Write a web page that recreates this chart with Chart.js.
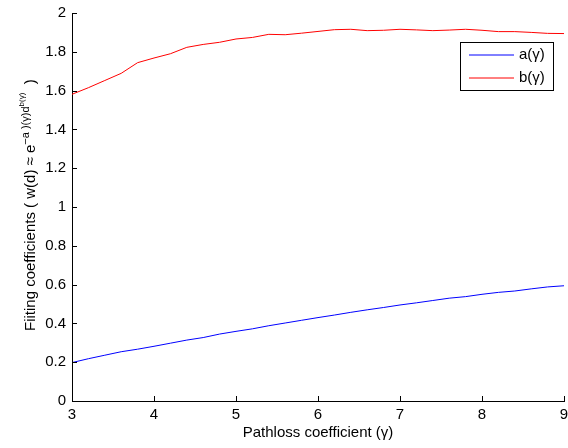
<!DOCTYPE html>
<html>
<head>
<meta charset="utf-8">
<script src="https://cdn.jsdelivr.net/npm/chart.js@4/dist/chart.umd.min.js"></script>
<style>
  html, body { margin: 0; padding: 0; background: #fff; }
  canvas { display: block; }
</style>
</head>
<body>
<canvas id="chart" width="568" height="448"></canvas>
<script>
// pathloss coefficient (gamma)
const gammaValues = [3.0, 3.2, 3.4, 3.6, 3.8, 4.0, 4.2, 4.4, 4.6, 4.8, 5.0,
  5.2, 5.4, 5.6, 5.8, 6.0, 6.2, 6.4, 6.6, 6.8, 7.0,
  7.2, 7.4, 7.6, 7.8, 8.0, 8.2, 8.4, 8.6, 8.8, 9.0];

const aValues = [0.198, 0.218, 0.236, 0.254, 0.267, 0.282, 0.298, 0.314, 0.327, 0.345, 0.359,
  0.372, 0.388, 0.402, 0.416, 0.430, 0.443, 0.457, 0.470, 0.482, 0.495,
  0.506, 0.518, 0.530, 0.538, 0.550, 0.560, 0.567, 0.578, 0.588, 0.594];

const bValues = [1.581, 1.615, 1.652, 1.689, 1.744, 1.768, 1.790, 1.823, 1.838, 1.849, 1.866,
  1.874, 1.890, 1.888, 1.896, 1.905, 1.914, 1.916, 1.909, 1.911, 1.916,
  1.913, 1.909, 1.912, 1.916, 1.911, 1.904, 1.904, 1.900, 1.895, 1.894];

const seriesLabels = ['a(γ)', 'b(γ)'];
const seriesColors = ['#0000ff', '#ff0000'];
const xTitle = 'Pathloss coefficient (γ)';

const FONT = '"Liberation Sans", Arial, Helvetica, sans-serif';

function toPoints(ys) {
  return gammaValues.map((x, i) => ({x: x, y: ys[i]}));
}

// MATLAB style: ticks inside, titles and legend drawn by hand
const matlabBits = {
  id: 'matlabBits',
  afterDraw(chart) {
    const ctx = chart.ctx;
    const area = chart.chartArea;
    const xs = chart.scales.x;
    const ys = chart.scales.y;

    ctx.save();
    ctx.strokeStyle = '#000';
    ctx.lineWidth = 1;
    ctx.beginPath();
    ys.ticks.forEach(t => {
      const py = Math.round(ys.getPixelForValue(t.value)) + 0.5;
      ctx.moveTo(area.left, py);
      ctx.lineTo(area.left + 5, py);
    });
    xs.ticks.forEach(t => {
      const px = Math.round(xs.getPixelForValue(t.value)) + 0.5;
      ctx.moveTo(px, area.bottom);
      ctx.lineTo(px, area.bottom - 5);
    });
    ctx.stroke();

    // x title
    ctx.fillStyle = '#000';
    ctx.font = '15px ' + FONT;
    ctx.textAlign = 'center';
    ctx.textBaseline = 'alphabetic';
    ctx.fillText(xTitle, (area.left + area.right) / 2, 437);

    // y title with super scripts, rotated
    ctx.translate(35, 331);
    ctx.rotate(-Math.PI / 2);
    ctx.textAlign = 'left';
    const parts = [
      {text: 'Fiiting coefficients ( w(d) ≈ e', size: 15, rise: 0},
      {text: '−a )(γ)d', size: 11, rise: 6},
      {text: 'b(γ)', size: 8, rise: 11},
      {text: '  )', size: 15, rise: 0}
    ];
    let pos = 0;
    parts.forEach(p => {
      ctx.font = p.size + 'px ' + FONT;
      ctx.fillText(p.text, pos, -p.rise);
      pos += ctx.measureText(p.text).width;
    });
    ctx.restore();

    // legend box
    ctx.save();
    ctx.fillStyle = '#fff';
    ctx.fillRect(460, 42, 94, 49);
    ctx.strokeStyle = '#000';
    ctx.lineWidth = 1;
    ctx.strokeRect(460.5, 42.5, 93, 48);
    ctx.font = '15px ' + FONT;
    ctx.textBaseline = 'middle';
    ctx.textAlign = 'left';
    seriesLabels.forEach((label, i) => {
      const ly = 55 + i * 23;
      ctx.strokeStyle = seriesColors[i];
      ctx.lineWidth = 1;
      ctx.beginPath();
      ctx.moveTo(469, ly);
      ctx.lineTo(514, ly);
      ctx.stroke();
      ctx.fillStyle = '#000';
      ctx.fillText(label, 519, ly);
    });
    ctx.restore();
  }
};

const chartConfig = {
  type: 'line',
  data: {
    datasets: seriesLabels.map((label, i) => ({
      label: label,
      data: toPoints(i === 0 ? aValues : bValues),
      borderColor: seriesColors[i],
      borderWidth: 1,
      pointRadius: 0,
      tension: 0
    }))
  },
  options: {
    responsive: false,
    animation: false,
    layout: {padding: {left: 0, top: 13, right: 4, bottom: 0}},
    plugins: {
      legend: {display: false},
      tooltip: {enabled: false}
    },
    scales: {
      x: {
        type: 'linear',
        min: 3,
        max: 9,
        ticks: {
          stepSize: 1,
          color: '#000',
          padding: 5,
          maxRotation: 0,
          font: {family: FONT, size: 15}
        },
        grid: {drawOnChartArea: false, drawTicks: false},
        border: {color: '#000', width: 1},
        afterFit(scale) {
          scale.height = 47;
          scale.paddingLeft = 0;
          scale.paddingRight = 0;
        }
      },
      y: {
        min: 0,
        max: 2,
        ticks: {
          stepSize: 0.2,
          color: '#000',
          padding: 6,
          font: {family: FONT, size: 15},
          callback: v => String(+v.toFixed(1))
        },
        grid: {drawOnChartArea: false, drawTicks: false},
        border: {color: '#000', width: 1},
        afterFit(scale) {
          scale.width = 72;
          scale.paddingTop = 0;
          scale.paddingBottom = 0;
        }
      }
    }
  },
  plugins: [matlabBits]
};

new Chart(document.getElementById('chart'), chartConfig);
</script>
</body>
</html>
